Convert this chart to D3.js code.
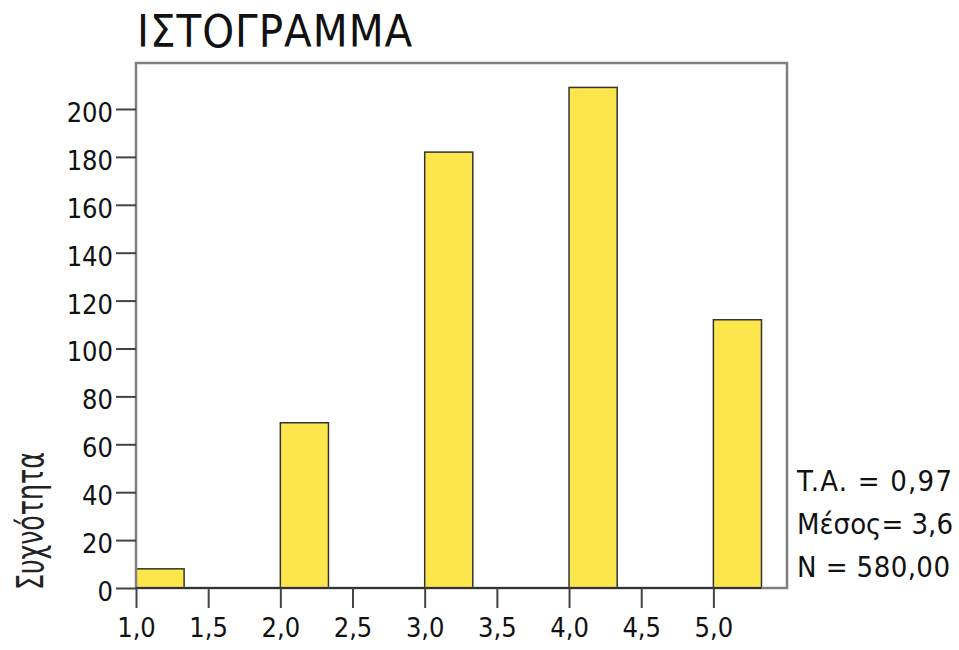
<!DOCTYPE html>
<html>
<head>
<meta charset="utf-8">
<script src="https://cdn.jsdelivr.net/npm/d3@7"></script>
<style>
  body { margin: 0; background: #fff; }
  text { font-family: "DejaVu Sans Condensed", "DejaVu Sans", sans-serif; fill: #111; }
</style>
</head>
<body>
<div id="chart"></div>
<script>
const binStarts = [1.0, 2.0, 3.0, 4.0, 5.0];
const binWidth = 1 / 3;
const counts = [8, 69, 182, 209, 112];
const xTicks = [1.0, 1.5, 2.0, 2.5, 3.0, 3.5, 4.0, 4.5, 5.0];
const yTicks = [0, 20, 40, 60, 80, 100, 120, 140, 160, 180, 200];
const statLines = ["T.A. = 0,97", "Μέσος= 3,6", "N = 580,00"];
const titleText = "ΙΣΤΟΓΡΑΜΜΑ";
const yLabel = "Συχνότητα";

const W = 959, H = 650;
const margin = { top: 63, right: 172, bottom: 62, left: 136 };
const width = W - margin.left - margin.right;
const height = H - margin.top - margin.bottom;
// rendered widths of the stats lines, to mimic the original font
const statWidths = [155, 156, 153];

const svg = d3.select("#chart").append("svg")
    .attr("width", W)
    .attr("height", H);

const g = svg.append("g")
    .attr("transform", `translate(${margin.left},${margin.top})`);

const x = d3.scaleLinear().domain([1.0, 5.51]).range([0, width]);
const y = d3.scaleLinear().domain([0, 219.2]).range([height, 0]);

// bars
g.selectAll(".bar")
    .data(binStarts.map((s, i) => ({ s, c: counts[i] })))
    .enter()
    .append("rect")
    .attr("x", d => x(d.s))
    .attr("y", d => y(d.c))
    .attr("width", d => x(d.s + binWidth) - x(d.s))
    .attr("height", d => y(0) - y(d.c))
    .attr("fill", "#fce64c")
    .attr("stroke", "#333")
    .attr("stroke-width", 1.5);

// frame
g.append("rect")
    .attr("x", 0).attr("y", 0)
    .attr("width", width).attr("height", height)
    .attr("fill", "none")
    .attr("stroke", "#808080")
    .attr("stroke-width", 2.5);

// baseline
g.append("line")
    .attr("x1", x(1.0)).attr("x2", x(5.0 + binWidth))
    .attr("y1", y(0)).attr("y2", y(0))
    .attr("stroke", "#333")
    .attr("stroke-width", 2);

// y axis
const yAxis = g.append("g")
    .call(d3.axisLeft(y).tickValues(yTicks).tickSize(20).tickPadding(3));
yAxis.select(".domain").remove();
yAxis.selectAll("line").attr("stroke", "#444").attr("stroke-width", 2);
yAxis.selectAll("text")
    .style("font-size", "27px")
    .attr("dy", "0.46em");

// x axis
const xAxis = g.append("g")
    .attr("transform", `translate(0,${height})`)
    .call(d3.axisBottom(x).tickValues(xTicks).tickSize(20).tickPadding(10)
        .tickFormat(d => d3.format(".1f")(d).replace(".", ",")));
xAxis.select(".domain").remove();
xAxis.selectAll("line").attr("stroke", "#444").attr("stroke-width", 2);
xAxis.selectAll("text")
    .style("font-size", "27px");

// title
svg.append("text")
    .attr("x", 137)
    .attr("y", 47)
    .style("font-size", "45px")
    .style("letter-spacing", "1px")
    .text(titleText);

// y axis label (narrow, like the original)
svg.append("text")
    .attr("transform", "translate(43,590) rotate(-90)")
    .attr("text-anchor", "start")
    .attr("textLength", 138)
    .attr("lengthAdjust", "spacingAndGlyphs")
    .style("font-size", "37px")
    .style("fill", "#222")
    .text(yLabel);

// stats
svg.selectAll(".stat")
    .data(statLines)
    .enter()
    .append("text")
    .attr("x", 797)
    .attr("y", (d, i) => 491 + i * 43)
    .attr("textLength", (d, i) => statWidths[i])
    .attr("lengthAdjust", "spacing")
    .style("font-size", "29px")
    .text(d => d);
</script>
</body>
</html>
